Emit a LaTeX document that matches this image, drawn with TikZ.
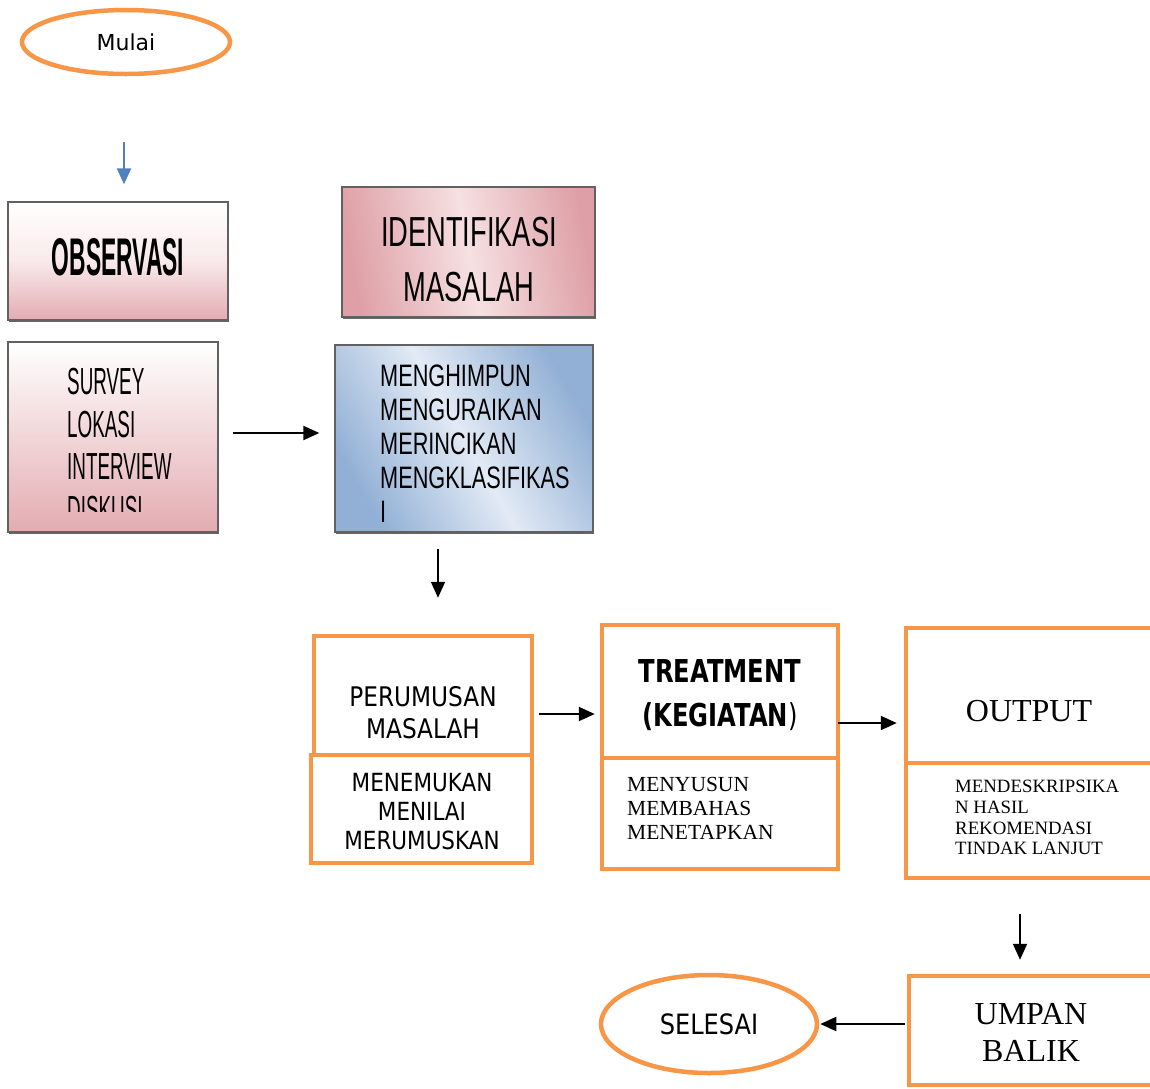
\documentclass[tikz,border=0pt]{standalone}
\usepackage{fontspec}
\usetikzlibrary{arrows.meta,shapes.geometric,shadows}
\newfontfamily\dvfont{DejaVu Sans}
\newfontfamily\tahfont[FakeStretch=0.86]{DejaVu Sans}
\newfontfamily\tahbfont[FakeStretch=0.77]{DejaVu Sans}
\newfontfamily\timesfont{Liberation Serif}
\newfontfamily\survfont[FakeStretch=0.5]{Liberation Sans}
\newfontfamily\mengfont[FakeStretch=0.7]{Liberation Sans}
\newfontfamily\identfont[FakeStretch=0.65]{Liberation Sans}
\newfontfamily\obsfont[FakeStretch=0.43]{Liberation Sans}
\definecolor{orng}{RGB}{247,150,70}
\definecolor{pinkA}{RGB}{222,160,166}
\definecolor{pinkB}{RGB}{227,172,177}
\definecolor{pinkL}{RGB}{246,224,226}
\definecolor{blueD}{RGB}{146,176,213}
\definecolor{blueL}{RGB}{226,234,245}
\definecolor{arrowblue}{RGB}{79,129,189}
\begin{document}
\begin{tikzpicture}[x=1pt,y=-1pt,
  oval/.style={ellipse, draw=orng, line width=4.5pt, inner sep=0pt},
  obox/.style={rectangle, draw=orng, line width=4.5pt, inner sep=0pt},
  shbox/.style={rectangle, draw=black!62, line width=1.3pt, inner sep=0pt,
     drop shadow={shadow xshift=1.2pt, shadow yshift=-2.4pt, fill=black!60, opacity=1}},
  txt/.style={inner sep=0pt},
  arr/.style={-{Triangle[length=16pt,width=14pt]}, line width=2pt, black},
  barr/.style={-{Triangle[length=16pt,width=14pt]}, line width=2.2pt, arrowblue}
]
\useasboundingbox (0,0) rectangle (1150,1088);
\clip (0,0) rectangle (1150,1088);
\fill[white] (0,0) rectangle (1150,1088);

% start
\node[oval, minimum width=208pt, minimum height=64pt,
      font=\dvfont\fontsize{22}{26}\selectfont] (mulai) at (126,42) {Mulai};

% top pink boxes
\node[shbox, minimum width=220pt, minimum height=118pt,
      top color=white, bottom color=pinkB, middle color=pinkL!70!white] (obs) at (118,261) {};
\node[txt, anchor=north, font=\obsfont\bfseries\fontsize{53}{60}\selectfont] (obst) at (118,238) {OBSERVASI};

\node[shbox, minimum width=253pt, minimum height=130pt,
      left color=pinkA, right color=pinkA, middle color=pinkL, shading angle=100] (ident) at (468.5,252) {};
\node[txt, anchor=north, align=center, font=\identfont\fontsize{42}{55}\selectfont] (identt) at (469,217) {IDENTIFIKASI\\MASALAH};

\node[shbox, minimum width=210pt, minimum height=190pt,
      top color=white, bottom color=pinkB] (survey) at (113,437) {};
\begin{scope}
  \clip (survey.north west) rectangle ([yshift=21pt]survey.south east);
  \node[txt, anchor=north west, align=left, font=\survfont\fontsize{37.7}{42.5}\selectfont] (surveyt) at (67,368)
    {SURVEY\\LOKASI\\INTERVIEW\\DISKUSI};
\end{scope}

\node[shbox, minimum width=258pt, minimum height=187pt,
      left color=blueD, right color=blueD, middle color=blueL, shading angle=-60] (meng) at (464,438.5) {};
\node[txt, anchor=north west, align=left, font=\mengfont\fontsize{31}{34}\selectfont] (mengt) at (380,365)
  {MENGHIMPUN\\MENGURAIKAN\\MERINCIKAN\\MENGKLASIFIKAS\\I};

% orange boxes
\node[obox, minimum width=218pt, minimum height=119pt] (perumA) at (423,695.5) {};
\node[obox, minimum width=221pt, minimum height=108pt] (perumB) at (421.5,809) {};
\node[txt, anchor=north, align=center, font=\tahfont\fontsize{27}{32}\selectfont] (perumAt) at (423,686) {PERUMUSAN\\MASALAH};
\node[txt, anchor=north, align=center, font=\tahfont\fontsize{25}{29}\selectfont] (perumBt) at (422,773) {MENEMUKAN\\MENILAI\\MERUMUSKAN};

\node[obox, minimum width=236pt, minimum height=133pt] (treatA) at (720,691.5) {};
\node[obox, minimum width=236pt, minimum height=111pt] (treatB) at (720,813.5) {};
\node[txt, anchor=north, align=center, font=\tahbfont\fontsize{31.5}{44}\selectfont] (treatAt) at (720,659) {\bfseries TREATMENT\\\bfseries (KEGIATAN\mdseries)};
\node[txt, anchor=north west, align=left, font=\timesfont\fontsize{21.5}{24}\selectfont] (treatBt) at (627,777) {MENYUSUN\\MEMBAHAS\\MENETAPKAN};

\node[obox, minimum width=254pt, minimum height=135pt] (outA) at (1033,695.5) {};
\node[obox, minimum width=254pt, minimum height=115pt] (outB) at (1033,820.5) {};
\node[txt, anchor=north, font=\timesfont\fontsize{32}{36}\selectfont] (outAt) at (1029,700) {OUTPUT};
\node[txt, anchor=north west, align=left, font=\timesfont\fontsize{18.8}{20.7}\selectfont] (outBt) at (955,780)
  {MENDESKRIPSIKA\\N HASIL\\REKOMENDASI\\TINDAK LANJUT};

\node[obox, minimum width=251pt, minimum height=109pt] (umpan) at (1034.5,1030.5) {};
\node[txt, anchor=north, align=center, font=\timesfont\fontsize{32}{37}\selectfont] (umpant) at (1031,1003) {UMPAN\\BALIK};

\node[oval, minimum width=216pt, minimum height=98pt,
      font=\tahfont\fontsize{28}{32}\selectfont] (selesai) at (709,1024) {SELESAI};

% connectors
\draw[barr, shorten <=66pt, shorten >=17pt] ([xshift=-2pt]mulai.south) -- ([xshift=-2pt]mulai.south |- obs.north);
\draw[arr, shorten <=14pt, shorten >=15pt] ([yshift=4pt]survey.east) -- ([yshift=4pt]survey.east -| meng.west);
\draw[arr, shorten <=16pt, shorten >=36pt] ([xshift=-26pt]meng.south) -- ([xshift=-26pt]meng.south |- perumA.north);
\draw[arr, shorten <=5pt, shorten >=5pt] ([yshift=-18.5pt]perumA.east) -- ([yshift=-18.5pt]perumA.east -| treatA.west);
\draw[arr, shorten <=-2pt, shorten >=7pt] ([yshift=-31.5pt]treatA.east) -- ([yshift=-31.5pt]treatA.east -| outA.west);
\draw[arr, shorten <=34pt, shorten >=14pt] ([xshift=-13pt]outB.south) -- ([xshift=-13pt]outB.south |- umpan.north);
\draw[arr, shorten <=2pt, shorten >=1pt] (selesai.east -| umpan.west) -- (selesai.east);
\end{tikzpicture}
\end{document}
